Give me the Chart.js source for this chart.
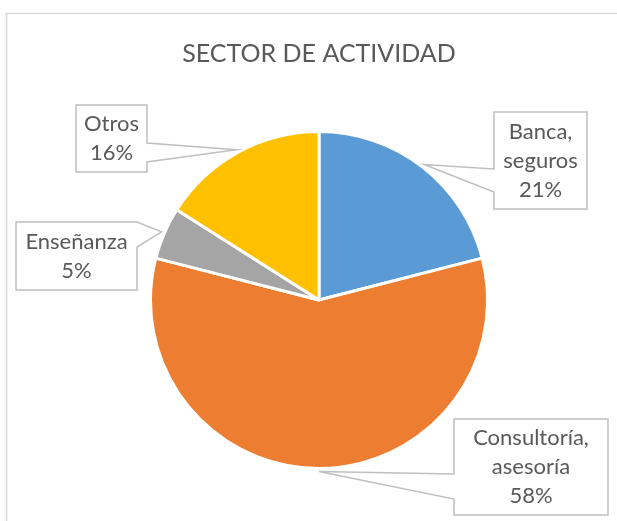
<!DOCTYPE html>
<html>
<head>
<meta charset="utf-8">
<script src="https://cdn.jsdelivr.net/npm/chart.js@4/dist/chart.umd.min.js"></script>
<style>
  html, body { margin: 0; padding: 0; background: #fff; }
</style>
</head>
<body>
<canvas id="sector-pie" width="617" height="521"></canvas>
<script>
// Datos del gráfico
var categorias = ["Banca, seguros", "Consultoría, asesoría", "Enseñanza", "Otros"];
var valores = [21, 58, 5, 16];
var colores = ["#5B9BD5", "#ED7D31", "#A5A5A5", "#FFC000"];
var titulo = "SECTOR DE ACTIVIDAD";

// Cajas de las etiquetas (x0, y0, x1, y1, lado del pico, inicio y fin del pico)
var cajas = [
    { x0: 494, y0: 112, x1: 587, y1: 209, lado: "izq", p0: 169, p1: 192 },
    { x0: 454, y0: 419, x1: 608, y1: 515, lado: "izq", p0: 474, p1: 499 },
    { x0: 16, y0: 222, x1: 137, y1: 290, lado: "der", p0: 222, p1: 247 },
    { x0: 76, y0: 105, x1: 147, y1: 172, lado: "der", p0: 143, p1: 162 }
];

var fuente = "Lato, 'Open Sans', sans-serif";

// Marco exterior del gráfico
var marco = {
    id: "marco",
    beforeDraw: function(chart) {
        var c = chart.ctx;
        c.save();
        c.strokeStyle = "#D9D9D9";
        c.lineWidth = 1.5;
        c.strokeRect(6.5, 13.5, 700, 600);
        c.restore();
    }
};

// Etiquetas tipo "llamada" como en Excel
var llamadas = {
    id: "llamadas",
    afterDatasetsDraw: function(chart) {
        var c = chart.ctx;
        var meta = chart.getDatasetMeta(0);
        var total = valores.reduce(function(a, b) { return a + b; }, 0);
        c.save();
        meta.data.forEach(function(arc, i) {
            var p = arc.getProps(["x", "y", "startAngle", "endAngle", "outerRadius"], true);
            var medio = (p.startAngle + p.endAngle) / 2;
            var tx = p.x + Math.cos(medio) * (p.outerRadius + 3);
            var ty = p.y + Math.sin(medio) * (p.outerRadius + 3);
            var b = cajas[i];

            c.beginPath();
            if (b.lado === "izq") {
                c.moveTo(b.x0, b.y0);
                c.lineTo(b.x1, b.y0);
                c.lineTo(b.x1, b.y1);
                c.lineTo(b.x0, b.y1);
                c.lineTo(b.x0, b.p1);
                c.lineTo(tx, ty);
                c.lineTo(b.x0, b.p0);
            } else {
                c.moveTo(b.x0, b.y0);
                c.lineTo(b.x1, b.y0);
                c.lineTo(b.x1, b.p0);
                c.lineTo(tx, ty);
                c.lineTo(b.x1, b.p1);
                c.lineTo(b.x1, b.y1);
                c.lineTo(b.x0, b.y1);
            }
            c.closePath();
            c.fillStyle = "#FFFFFF";
            c.fill();
            c.strokeStyle = "#BFBFBF";
            c.lineWidth = 1.5;
            c.stroke();

            // texto: nombre partido en la coma + porcentaje
            var lineas = categorias[i].split(", ");
            for (var k = 0; k < lineas.length - 1; k++) lineas[k] += ",";
            lineas.push(Math.round(valores[i] / total * 100) + "%");

            var alto = 29;
            var cx = (b.x0 + b.x1) / 2;
            var cy = (b.y0 + b.y1) / 2;
            var y = cy - (lineas.length - 1) * alto / 2;
            c.fillStyle = "#595959";
            c.font = "22px " + fuente;
            c.textAlign = "center";
            c.textBaseline = "middle";
            lineas.forEach(function(t, j) {
                c.fillText(t, cx, y + j * alto);
            });
        });
        c.restore();
    }
};

var ctx = document.getElementById("sector-pie");

new Chart(ctx, {
    type: "pie",
    data: {
        labels: categorias,
        datasets: [{
            data: valores,
            backgroundColor: colores,
            borderColor: "#FFFFFF",
            borderWidth: 3
        }]
    },
    options: {
        responsive: false,
        animation: false,
        layout: {
            padding: { left: 149, right: 128, top: 0, bottom: 51 }
        },
        plugins: {
            legend: { display: false },
            tooltip: { enabled: false },
            title: {
                display: true,
                text: titulo,
                color: "#595959",
                font: { family: fuente, size: 25, weight: "normal" },
                padding: { top: 39, bottom: 61 }
            }
        }
    },
    plugins: [marco, llamadas]
});
</script>
</body>
</html>
